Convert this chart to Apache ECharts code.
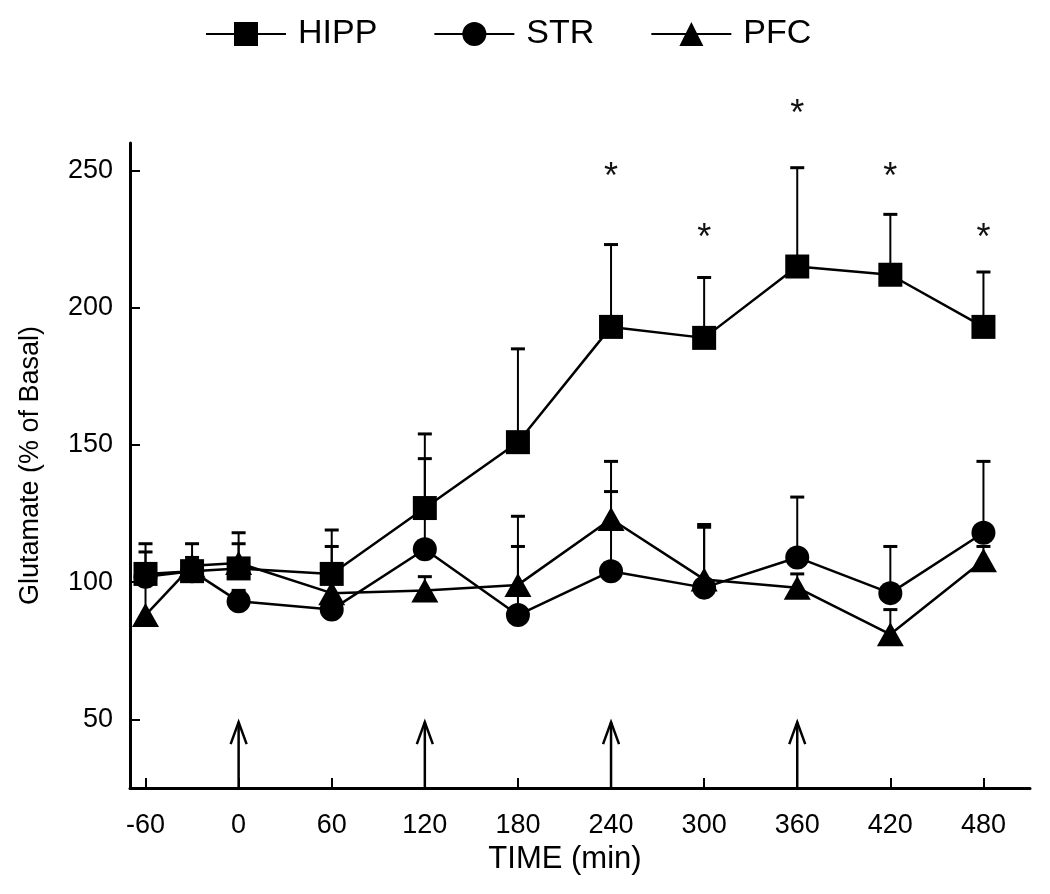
<!DOCTYPE html>
<html>
<head>
<meta charset="utf-8">
<script src="https://cdn.jsdelivr.net/npm/echarts@6/dist/echarts.min.js"></script>
<style>
html,body{margin:0;padding:0;background:#fff;}
#chart{width:1050px;height:894px;}
</style>
</head>
<body>
<div id="chart"></div>
<script>
// ---- data ----
const times = [-60, -30, 0, 60, 120, 180, 240, 300, 360, 420, 480];
const hipp    = [103, 104, 105, 103, 127, 151, 193, 189, 215, 212, 193];
const hippErr = [11, 5, 9, 16, 27, 34, 30, 22, 36, 22, 20];
const str     = [102, 104, 93, 90, 112, 88, 104, 98, 109, 96, 118];
const strErr  = [9, 4, 4, 4, 33, 25, 29, 22, 22, 17, 26];
const pfc     = [88, 106, 107, 96, 97, 99, 123, 101, 98, 81, 108];
const pfcErr  = [14, 8, 11, 17, 5, 25, 21, 20, 5, 9, 5];
const starTimes  = [240, 300, 360, 420, 480];
const starLevels = [250, 228, 273, 250, 228];
const arrowTimes = [0, 120, 240, 360];
const arrowFrom = 25, arrowTo = 49;
const xTicks = [-60, 0, 60, 120, 180, 240, 300, 360, 420, 480];
const yTicks = [50, 100, 150, 200, 250];

const FONT = 'Liberation Sans, Arial, sans-serif';

function pairs(vals) { return times.map((t, i) => [t, vals[i]]); }
function errData(vals, errs) { return times.map((t, i) => [t, vals[i], errs[i]]); }

function errRender(params, api) {
  const x = api.value(0), y = api.value(1), e = api.value(2);
  const p0 = api.coord([x, y]);
  const p1 = api.coord([x, y + e]);
  return {
    type: 'group',
    children: [
      { type: 'line', shape: { x1: p0[0], y1: p0[1], x2: p1[0], y2: p1[1] }, style: { stroke: '#000', lineWidth: 2 } },
      { type: 'line', shape: { x1: p1[0] - 7, y1: p1[1], x2: p1[0] + 7, y2: p1[1] }, style: { stroke: '#000', lineWidth: 3 } }
    ]
  };
}

const chart = echarts.init(document.getElementById('chart'), null, { renderer: 'canvas' });

const lineCommon = {
  type: 'line',
  lineStyle: { color: '#000', width: 2.5 },
  itemStyle: { color: '#000' },
  symbolSize: 24,
  z: 5,
  animation: false
};

const option = {
  backgroundColor: '#fff',
  animation: false,
  legend: {
    data: ['HIPP', 'STR', 'PFC'],
    left: 200,
    top: 12,
    itemWidth: 80,
    itemHeight: 30,
    itemGap: 56,
    textStyle: { fontFamily: FONT, fontSize: 34, color: '#000', padding: [0, 0, 0, 7] }
  },
  grid: { left: 130, right: 20, top: 143, bottom: 106 },
  xAxis: {
    type: 'value',
    min: -70, max: 510,
    name: 'TIME (min)',
    nameLocation: 'middle',
    nameGap: 53,
    nameTextStyle: { fontFamily: FONT, fontSize: 31, color: '#000', padding: [0, 30, 0, 0] },
    axisLine: { show: true, onZero: false, lineStyle: { color: '#000', width: 3 } },
    axisTick: { show: true, inside: true, length: 10, customValues: xTicks, lineStyle: { color: '#000', width: 2 } },
    axisLabel: { customValues: xTicks, margin: 24, fontFamily: FONT, fontSize: 27, color: '#000' },
    splitLine: { show: false }
  },
  yAxis: {
    type: 'value',
    min: 25, max: 260,
    name: 'Glutamate (% of Basal)',
    nameLocation: 'middle',
    nameRotate: 90,
    nameGap: 86,
    nameTextStyle: { fontFamily: FONT, fontSize: 27, color: '#000' },
    axisLine: { show: true, onZero: false, lineStyle: { color: '#000', width: 3 } },
    axisTick: { show: true, inside: true, length: 10, customValues: yTicks, lineStyle: { color: '#000', width: 2 } },
    axisLabel: { customValues: yTicks, margin: 17, fontFamily: FONT, fontSize: 27, color: '#000' },
    splitLine: { show: false }
  },
  series: [
    { type: 'custom', name: 'errH', renderItem: errRender, data: errData(hipp, hippErr), encode: { x: 0, y: 1 }, z: 3, silent: true },
    { type: 'custom', name: 'errS', renderItem: errRender, data: errData(str, strErr), encode: { x: 0, y: 1 }, z: 3, silent: true },
    { type: 'custom', name: 'errP', renderItem: errRender, data: errData(pfc, pfcErr), encode: { x: 0, y: 1 }, z: 3, silent: true },
    Object.assign({}, lineCommon, { name: 'HIPP', symbol: 'rect', data: pairs(hipp) }),
    Object.assign({}, lineCommon, { name: 'STR', symbol: 'circle', data: pairs(str) }),
    Object.assign({}, lineCommon, { name: 'PFC', symbol: 'triangle', symbolSize: [27, 24], data: pairs(pfc) }),
    {
      type: 'custom', name: 'stars', silent: true, clip: false, z: 6,
      data: starTimes.map((t, i) => [t, starLevels[i]]),
      encode: { x: 0, y: 1 },
      renderItem: function (params, api) {
        const p = api.coord([api.value(0), api.value(1)]);
        return {
          type: 'text',
          style: { text: '*', x: p[0], y: p[1] + 8, align: 'center', verticalAlign: 'middle', font: '36px ' + FONT, fill: '#111' }
        };
      }
    },
    {
      type: 'custom', name: 'arrows', silent: true, z: 4,
      data: arrowTimes.map(t => [t, arrowFrom, arrowTo]),
      encode: { x: 0, y: 1 },
      renderItem: function (params, api) {
        const x = api.value(0);
        const a = api.coord([x, api.value(1)]);
        const b = api.coord([x, api.value(2)]);
        return {
          type: 'group',
          children: [
            { type: 'line', shape: { x1: a[0], y1: a[1], x2: b[0], y2: b[1] }, style: { stroke: '#000', lineWidth: 2.5 } },
            { type: 'polyline', shape: { points: [[b[0] - 8, b[1] + 22], [b[0], b[1]], [b[0] + 8, b[1] + 22]] }, style: { stroke: '#000', lineWidth: 2.5, fill: null } }
          ]
        };
      }
    }
  ]
};

chart.setOption(option);
</script>
</body>
</html>
